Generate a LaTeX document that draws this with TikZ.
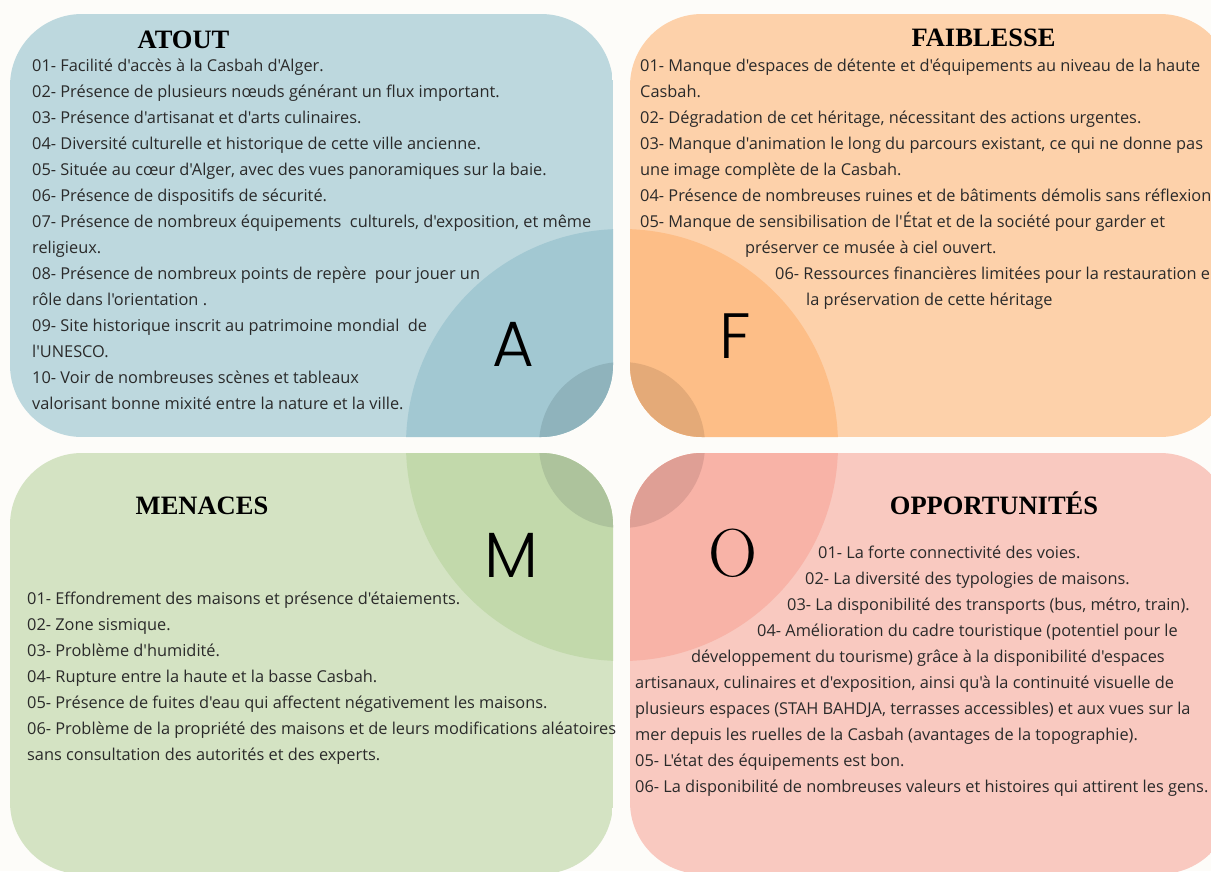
\documentclass[tikz,border=0pt]{standalone}
\usepackage{fontspec}
\setmainfont{Open Sans}[Ligatures=TeXOff]
\newfontfamily\titlefont{Liberation Serif}
\IfFontExistsTF{Poppins Light}{\newfontfamily\letterfont{Poppins Light}}{\newfontfamily\letterfont{Poppins}}
\newfontfamily\ofont{Latin Modern Roman}
\definecolor{bgc}{HTML}{FDFCF9}
\definecolor{txt}{HTML}{2A2A2A}
\definecolor{aone}{HTML}{BDD8DE}
\definecolor{atwo}{HTML}{A2C8D2}
\definecolor{athree}{HTML}{8FB3BC}
\definecolor{fone}{HTML}{FDD1AA}
\definecolor{ftwo}{HTML}{FDBE87}
\definecolor{fthree}{HTML}{E4AA78}
\definecolor{mone}{HTML}{D4E3C3}
\definecolor{mtwo}{HTML}{C2D9AB}
\definecolor{mthree}{HTML}{ADC39C}
\definecolor{oone}{HTML}{F9C9C0}
\definecolor{otwo}{HTML}{F8B3A7}
\definecolor{othree}{HTML}{DF9F95}
\begin{document}
\begin{tikzpicture}[x=1pt,y=-1pt,
  body/.style={anchor=base west, inner sep=0pt, text=txt, font=\fontsize{16.35}{19}\selectfont},
  ttl/.style={anchor=base, inner sep=0pt, text=black, font=\titlefont\bfseries\fontsize{26.5}{30}\selectfont},
  bigl/.style={anchor=base, inner sep=0pt, text=black, font=\letterfont\fontsize{64}{70}\selectfont},
  bigo/.style={anchor=base, inner sep=0pt, text=black, font=\ofont\fontsize{68}{72}\selectfont},
  panel/.style={rounded corners=72pt}]
\useasboundingbox (0,0) rectangle (1211,871);
\fill[bgc] (0,0) rectangle (1211,871);
% centre of the four circles
\coordinate (ctr) at (622,445);
% panel A
\begin{scope}
\clip[panel] (10,14) rectangle (613,437);
\fill[aone] (10,14) rectangle (613,437);
\fill[atwo] (ctr) circle[radius=216pt];
\fill[athree] (ctr) circle[radius=83pt];
\end{scope}
% panel F
\begin{scope}
\clip[panel] (630,14) rectangle (1232,437);
\fill[fone] (630,14) rectangle (1232,437);
\fill[ftwo] (ctr) circle[radius=216pt];
\fill[fthree] (ctr) circle[radius=83pt];
\end{scope}
% panel M
\begin{scope}
\clip[panel] (10,453) rectangle (613,874);
\fill[mone] (10,453) rectangle (613,874);
\fill[mtwo] (ctr) circle[radius=216pt];
\fill[mthree] (ctr) circle[radius=83pt];
\end{scope}
% panel O
\begin{scope}
\clip[panel] (630,453) rectangle (1232,874);
\fill[oone] (630,453) rectangle (1232,874);
\fill[otwo] (ctr) circle[radius=216pt];
\fill[othree] (ctr) circle[radius=83pt];
\end{scope}
% titles
\node[ttl] (tA) at (183.5,48) {ATOUT};
\node[ttl] (tF) at (983.5,46.5) {FAIBLESSE};
\node[ttl] (tM) at (202,514) {MENACES};
\node[ttl] (tO) at (994,514) {OPPORTUNITÉS};
% big letters
\node[bigl] (LA) at (513.5,366) {A};
\node[bigl] (LF) at (735,358) {F};
\node[bigl] (LM) at (511,577) {M};
\node[bigo] (LO) at (733,576) {O};
% A texts
\node[body] (a1) at (32,71) {01- Facilité d'accès à la Casbah d'Alger.};
\node[body] (a2) at (32,97) {02- Présence de plusieurs nœuds générant un flux important.};
\node[body] (a3) at (32,123) {03- Présence d'artisanat et d'arts culinaires.};
\node[body] (a4) at (32,149) {04- Diversité culturelle et historique de cette ville ancienne.};
\node[body] (a5) at (32,175) {05- Située au cœur d'Alger, avec des vues panoramiques sur la baie.};
\node[body] (a6) at (32,201) {06- Présence de dispositifs de sécurité.};
\node[body] (a7) at (32,227) {07- Présence de nombreux équipements~ culturels, d'exposition, et même};
\node[body] (a8) at (32,253) {religieux.};
\node[body] (a9) at (32,279) {08- Présence de nombreux points de repère~ pour jouer un};
\node[body] (a10) at (32,305) {rôle dans l'orientation .};
\node[body] (a11) at (32,331) {09- Site historique inscrit au patrimoine mondial~ de};
\node[body] (a12) at (32,357) {l'UNESCO.};
\node[body] (a13) at (32,383) {10- Voir de nombreuses scènes et tableaux};
\node[body] (a14) at (32,409) {valorisant bonne mixité entre la nature et la ville.};
% F texts
\node[body] (f1) at (640,71) {01- Manque d'espaces de détente et d'équipements au niveau de la haute};
\node[body] (f2) at (640,97) {Casbah.};
\node[body] (f3) at (640,123) {02- Dégradation de cet héritage, nécessitant des actions urgentes.};
\node[body] (f4) at (640,149) {03- Manque d'animation le long du parcours existant, ce qui ne donne pas};
\node[body] (f5) at (640,175) {une image complète de la Casbah.};
\node[body] (f6) at (640,201) {04- Présence de nombreuses ruines et de bâtiments démolis sans réflexion};
\node[body] (f7) at (640,227) {05- Manque de sensibilisation de l'État et de la société pour garder et};
\node[body] (f8) at (745,253) {préserver ce musée à ciel ouvert.};
\node[body] (f9) at (775,279) {06- Ressources financières limitées pour la restauration e};
\node[body] (f10) at (806,305) {la préservation de cette héritage};
% M texts
\node[body] (m1) at (27,604.5) {01- Effondrement des maisons et présence d'étaiements.};
\node[body] (m2) at (27,630.5) {02- Zone sismique.};
\node[body] (m3) at (27,656.5) {03- Problème d'humidité.};
\node[body] (m4) at (27,682.5) {04- Rupture entre la haute et la basse Casbah.};
\node[body] (m5) at (27,708.5) {05- Présence de fuites d'eau qui affectent négativement les maisons.};
\node[body] (m6) at (27,734.5) {06- Problème de la propriété des maisons et de leurs modifications aléatoires};
\node[body] (m7) at (27,760.5) {sans consultation des autorités et des experts.};
% O texts
\node[body] (o1) at (818,558.5) {01- La forte connectivité des voies.};
\node[body] (o2) at (805,584.5) {02- La diversité des typologies de maisons.};
\node[body] (o3) at (787,610.5) {03- La disponibilité des transports (bus, métro, train).};
\node[body] (o4) at (757,636.5) {04- Amélioration du cadre touristique (potentiel pour le};
\node[body] (o5) at (691,662.5) {développement du tourisme) grâce à la disponibilité d'espaces};
\node[body] (o6) at (635,688.5) {artisanaux, culinaires et d'exposition, ainsi qu'à la continuité visuelle de};
\node[body] (o7) at (635,714.5) {plusieurs espaces (STAH BAHDJA, terrasses accessibles) et aux vues sur la};
\node[body] (o8) at (635,740.5) {mer depuis les ruelles de la Casbah (avantages de la topographie).};
\node[body] (o9) at (635,766.5) {05- L'état des équipements est bon.};
\node[body] (o10) at (635,792.5) {06- La disponibilité de nombreuses valeurs et histoires qui attirent les gens.};
\end{tikzpicture}
\end{document}
